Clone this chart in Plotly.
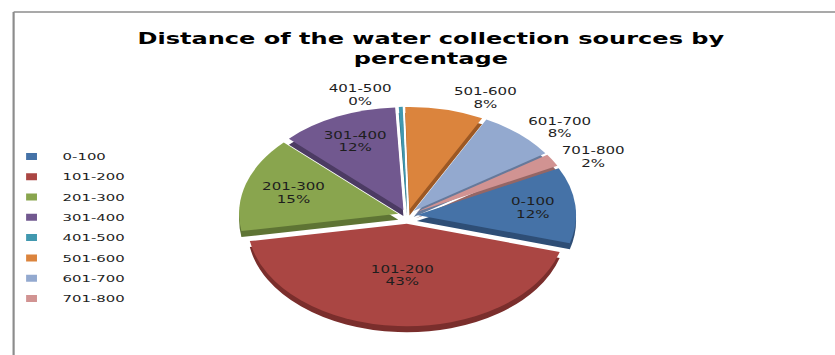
import plotly.graph_objects as go

# Distance bands (metres) and their share of water collection sources (%)
categories = ["0-100", "101-200", "201-300", "301-400", "401-500", "501-600", "601-700", "701-800"]
shares = [12, 43, 15, 12, 0.4, 8, 8, 2]
label_side = ["inside", "inside", "inside", "inside", "outside", "outside", "outside", "outside"]

top_colors = ["#4572A7", "#AA4643", "#89A54E", "#71588F", "#4198AF", "#DB843D", "#93A9CF", "#D19392"]
side_colors = ["#2E4E76", "#7A2E2C", "#5E7434", "#4C3B63", "#2B6B7B", "#9C5824", "#66799A", "#956665"]
explode = [0.06, 0.08, 0.06, 0.06, 0.06, 0.06, 0.06, 0.06]

title_text = "<b>Distance of the water collection sources by<br>percentage</b>"

W, H = 538, 355
STRETCH = 835 / W          # horizontal stretch applied to the rendered chart
DEPTH = 6                  # thickness of the pie, px

x_dom = [0.25, 0.72]
y_dom = [0.081, 0.705]
shift = DEPTH / H

fig = go.Figure()

# darker copy underneath, offset downward, gives the slices their side walls
fig.add_trace(go.Pie(
    labels=categories, values=shares, sort=False, direction="clockwise", rotation=63,
    pull=explode, marker=dict(colors=side_colors, line=dict(width=0)),
    textinfo="none", hoverinfo="skip", showlegend=False,
    domain=dict(x=x_dom, y=[y_dom[0] - shift, y_dom[1] - shift]),
))

# top face with the data labels
fig.add_trace(go.Pie(
    labels=categories, values=shares, sort=False, direction="clockwise", rotation=63,
    pull=explode, marker=dict(colors=top_colors, line=dict(width=0)),
    texttemplate="%{label}<br>%{percent:.0%}", textposition=label_side,
    insidetextorientation="horizontal",
    textfont=dict(family="DejaVu Sans", size=9.7, color="#1e1e1e"),
    showlegend=False, domain=dict(x=x_dom, y=y_dom),
))

# legend entries
for i, (cat, col) in enumerate(zip(categories, top_colors)):
    fig.add_trace(go.Scatter(
        x=[None], y=[None], mode="markers", name=cat, legendgroup=f"g{i}",
        marker=dict(symbol="square", size=7, color=col),
    ))

border = dict(color="#8c8c8c", width=1.4)
fig.update_layout(
    width=W, height=H, autosize=False,
    margin=dict(l=0, r=0, t=0, b=0),
    paper_bgcolor="white", plot_bgcolor="white",
    title=dict(text=title_text, x=0.516, xanchor="center", y=0.877, yanchor="top",
               font=dict(family="DejaVu Sans", size=15.5, color="#000000")),
    xaxis=dict(visible=False), yaxis=dict(visible=False),
    legend=dict(x=-0.005, xanchor="left", y=0.358, yanchor="middle",
                font=dict(family="DejaVu Sans", size=9.6, color="#1e1e1e"),
                tracegroupgap=1.3, bgcolor="rgba(0,0,0,0)"),
    shapes=[
        # chart-area frame: left and top edges
        dict(type="line", xref="paper", yref="paper", x0=5.8 / W, x1=5.8 / W,
             y0=0, y1=1 - 12 / H, line=border, layer="above"),
        dict(type="line", xref="paper", yref="paper", x0=5.8 / W, x1=1,
             y0=1 - 12 / H, y1=1 - 12 / H, line=border, layer="above"),
    ],
)

post = """
var gd = document.getElementById('{plot_id}');
document.documentElement.style.overflow = 'hidden';
document.body.style.margin = '0';
document.body.style.overflow = 'hidden';
gd.style.transformOrigin = '0 0';
gd.style.transform = 'scaleX(%.5f)';
""" % STRETCH

fig.write_html("out.html", post_script=post, config={"displayModeBar": False})
